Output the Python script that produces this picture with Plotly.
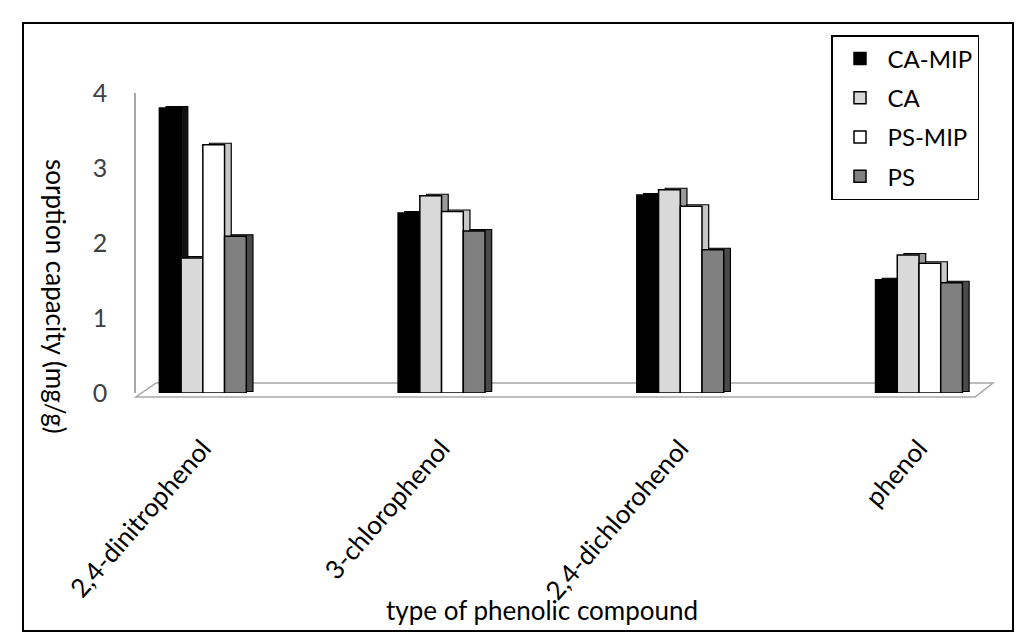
import plotly.graph_objects as go

categories = ["2,4-dinitrophenol", "3-chlorophenol", "2,4-dichlorohenol", "phenol"]
series_names = ["CA-MIP", "CA", "PS-MIP", "PS"]
ca_mip = [3.80, 2.40, 2.64, 1.51]
ca = [1.80, 2.63, 2.71, 1.84]
ps_mip = [3.31, 2.42, 2.49, 1.73]
ps = [2.09, 2.16, 1.91, 1.47]
y_ticks = [0, 1, 2, 3, 4]

series_values = [ca_mip, ca, ps_mip, ps]
front_colors = ["#000000", "#d9d9d9", "#ffffff", "#808080"]
depth_colors = ["#111111", "#9a9a9a", "#c8c8c8", "#4a4a4a"]

FONT = "Lato, 'DejaVu Sans', sans-serif"
bar_w = 0.091
depth_dx = 0.028
depth_dy = 0.02

fig = go.Figure()

# fake 3d depth: a darker copy of every bar, shifted up/right, drawn first
for i, vals in enumerate(series_values):
    off = -2 * bar_w + i * bar_w
    fig.add_trace(go.Bar(
        x=categories, y=vals, base=depth_dy, offset=off + depth_dx, width=bar_w,
        marker=dict(color=depth_colors[i], line=dict(color="#000000", width=1.2)),
        showlegend=False, hoverinfo="skip",
    ))

for i, vals in enumerate(series_values):
    off = -2 * bar_w + i * bar_w
    fig.add_trace(go.Bar(
        x=categories, y=vals, offset=off, width=bar_w, name=series_names[i],
        legendgroup=series_names[i],
        marker=dict(color=front_colors[i], line=dict(color="#000000", width=1.5)),
    ))

# plot area: x 128..985 px, y 85..385 px
def px(x):
    return (x - 128) / 857

def py(y):
    return (385 - y) / 300

floor = "M {} {} L {} {} L {} {} L {} {} Z".format(
    px(128), py(389), px(967), py(389), px(985), py(375), px(148), py(375))

fig.update_layout(
    width=1024, height=640,
    margin=dict(l=128, r=39, t=85, b=255),
    paper_bgcolor="white", plot_bgcolor="white",
    barmode="overlay",
    font=dict(family=FONT, color="#000000"),
    xaxis=dict(
        type="category", range=[-0.28, 3.31],
        showgrid=False, zeroline=False, showline=False, ticks="",
        tickangle=-49, tickfont=dict(size=26, color="#000000"),
        ticklabelstandoff=34,
    ),
    yaxis=dict(
        range=[0, 4], tickvals=y_ticks,
        showgrid=False, zeroline=False, showline=True, linecolor="#a6a6a6", linewidth=1.5,
        ticks="", tickfont=dict(size=25, color="#404040"), ticklabelstandoff=22,
    ),
    legend=dict(
        x=px(823), y=py(27), xanchor="left", yanchor="top",
        bordercolor="#000000", borderwidth=1.5, bgcolor="white",
        font=dict(size=24, color="#000000"), tracegroupgap=5, itemwidth=45,
    ),
    shapes=[
        dict(type="path", path=floor, xref="paper", yref="paper",
             line=dict(color="#a6a6a6", width=1.5), fillcolor="white", layer="below"),
        dict(type="rect", xref="paper", yref="paper",
             x0=px(15), x1=px(1005), y0=py(623), y1=py(15),
             line=dict(color="#000000", width=2)),
    ],
    annotations=[
        dict(text="sorption capacity (mg/g)", textangle=90, x=px(48), y=py(288),
             xanchor="center", yanchor="middle",
             xref="paper", yref="paper", showarrow=False, font=dict(size=26)),
        dict(text="type of phenolic compound", x=px(534), y=py(602),
             xanchor="center", yanchor="middle",
             xref="paper", yref="paper", showarrow=False, font=dict(size=26)),
    ],
)

fig.write_html("out.html")
